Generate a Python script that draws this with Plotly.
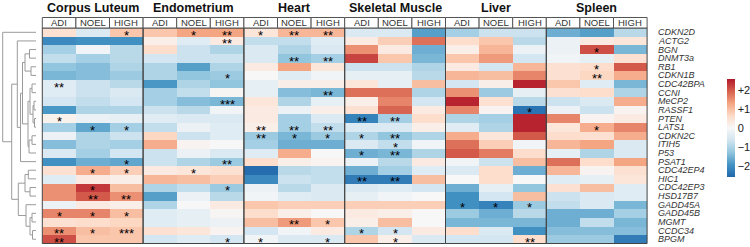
import plotly.graph_objects as go

W, H = 750, 247

genes = ["CDKN2D", "ACTG2", "BGN", "DNMT3a", "RB1", "CDKN1B", "CDC42BPA", "CCNI",
         "MeCP2", "RASSF1", "PTEN", "LATS1", "CDKN2C", "ITIH5", "P53", "PSAT1",
         "CDC42EP4", "HIC1", "CDC42EP3", "HSD17B7", "GADD45A", "GADD45B", "MGMT",
         "CCDC34", "BPGM"]
groups = ["ADI", "NOEL", "HIGH"]
tissues = ["Corpus Luteum", "Endometrium", "Heart", "Skeletal Muscle", "Liver", "Spleen"]

corpus_luteum = [
    [0.5, -0.5, 0.9], [-2.1, -2.0, -2.0], [-1.1, -0.1, -0.9], [-0.8, -1.1, -0.9],
    [-1.3, -1.4, -1.0], [-1.5, -1.4, -1.2], [-0.4, -0.7, -0.9], [-0.4, -0.7, -0.5],
    [-0.6, -0.8, -0.6], [-1.9, -1.0, -1.0], [0.15, -0.2, -0.3], [-1.1, -1.7, -1.1],
    [-0.2, -1.0, -0.7], [-1.4, -1.0, -1.1], [-0.5, -1.1, -0.6], [-2.0, -1.6, -1.7],
    [0.5, 1.2, 0.8], [-0.4, 0.3, 0.2], [1.5, 2.3, 1.0], [1.5, 2.0, 1.5],
    [-0.2, 0.3, 0.2], [1.6, 1.6, 1.0], [0.5, 0.6, 0.7], [1.5, 1.0, 0.9], [2.1, 0.9, 0.9]]
endometrium = [
    [0.9, 1.3, 1.3], [0.2, -0.4, 0.3], [0.6, -0.7, -1.0], [-0.6, -0.7, -0.7],
    [-1.0, -1.8, -1.0], [-1.0, -1.3, -1.2], [-1.9, -1.0, -1.3], [-1.1, -0.8, 0.05],
    [-1.1, -1.4, -1.5], [-0.7, -0.9, -0.1], [-0.4, -0.5, -0.5], [-0.8, -0.2, -0.4],
    [0.7, -0.7, -0.4], [1.2, 0.1, 0.0], [-0.7, -0.2, -0.5], [-0.7, -1.0, -1.2],
    [0.3, 0.4, 0.5], [1.1, 1.0, 0.8], [-1.0, -0.8, -1.2], [-1.8, -0.2, -0.9],
    [-1.0, 0.0, 0.3], [-0.4, -0.3, 0.05], [-0.4, -0.3, -0.2], [0.5, 0.4, 0.1], [-0.6, -0.4, -0.6]]
heart = [
    [0.4, 1.1, 1.1], [-0.8, -0.8, -0.4], [-0.5, -1.0, -0.5], [-0.5, -1.3, -1.1],
    [0.3, 1.3, 0.4], [0.0, -0.4, -0.1], [-0.3, 0.2, 0.2], [-0.3, -1.4, -1.5],
    [0.4, -1.0, -0.3], [0.3, -0.2, 0.2], [0.3, -1.1, -0.5], [0.2, -1.1, -0.8],
    [-1.2, -1.5, -1.2], [-1.1, -1.6, -1.6], [-0.4, 1.2, 0.0], [0.6, 0.2, 0.1],
    [-2.5, -0.9, -0.8], [-2.1, -0.7, -0.8], [-0.2, -0.9, -0.5], [-0.1, -0.4, -0.5],
    [0.9, 0.8, 0.8], [0.6, 0.2, 0.0], [1.0, 1.4, 0.9], [-0.6, -0.1, 0.3], [-0.1, -0.5, -0.5]]
skeletal_muscle = [
    [-0.5, -0.5, -1.8], [0.3, 0.8, 1.8], [1.5, 0.3, -1.6], [2.2, 0.9, -1.5],
    [-0.7, -0.7, -1.0], [-0.3, -0.3, -0.9], [0.4, -0.3, 1.0], [1.8, 1.8, -1.0],
    [0.2, 1.6, -0.6], [0.5, 1.9, 0.3], [-2.2, -1.1, 0.6], [-0.5, -0.5, 0.2],
    [-1.0, -1.3, -1.0], [-0.5, -0.8, -0.1], [-1.6, -1.5, -1.0], [-0.2, -0.9, 0.3],
    [-1.6, -1.1, -0.4], [-2.3, -2.3, 1.0], [-0.5, -0.4, -0.6], [-0.3, -0.1, 0.0],
    [0.8, 0.8, 0.8], [0.3, 0.2, 0.0], [0.2, 1.0, 0.0], [-1.0, -0.6, 0.3], [0.9, 0.2, -0.5]]
liver = [
    [-1.1, -0.7, -0.7], [0.6, 0.9, -0.9], [0.2, 1.1, -0.2], [0.9, 1.4, -0.6],
    [0.3, -0.6, 1.1], [1.1, 1.0, 1.6], [-0.6, 0.2, 2.5], [1.5, -1.2, -0.3],
    [2.5, 0.5, -0.9], [1.6, 0.1, -2.4], [-1.0, -1.1, 2.5], [-0.4, -1.0, 2.5],
    [1.2, 0.4, 2.0], [1.8, 0.8, -0.1], [2.0, 1.7, 0.6], [-0.1, -0.7, 1.0],
    [-0.5, 0.6, -1.6], [0.0, 0.6, 0.0], [-1.6, -0.3, -1.3], [-2.0, -0.6, 1.0],
    [-2.0, -2.2, -1.2], [-1.2, -1.6, -0.9], [-1.5, -1.5, -1.5], [0.6, -0.5, -2.0], [-0.6, -0.6, 0.6]]
spleen = [
    [-1.6, -1.8, -0.9], [-0.2, 0.3, 0.4], [-0.2, 2.1, -1.5], [-0.1, -0.3, 0.5],
    [0.5, 0.6, 2.0], [0.5, 0.7, 1.2], [0.9, -0.4, -1.5], [0.5, 0.6, -1.0],
    [-0.7, -0.5, 1.2], [-0.2, -0.7, 0.1], [1.6, 0.1, 0.3], [0.4, 1.2, 1.6],
    [0.6, 0.5, 1.2], [1.1, 1.3, -0.5], [-0.3, -1.0, -0.5], [1.8, 0.6, 1.3],
    [1.1, 0.1, 0.5], [-0.4, -0.3, 0.4], [0.5, 1.0, -0.4], [-0.7, -0.5, -0.4],
    [-0.8, -0.5, -1.5], [-1.6, -1.6, -1.1], [-1.6, -0.8, -1.5], [-1.4, -1.4, -1.4], [-1.2, -1.2, -2.3]]

# significance marks: row index -> marks for ADI, NOEL, HIGH
corpus_luteum_sig = {0: ["", "", "*"], 6: ["**", "", ""], 10: ["*", "", ""], 11: ["", "*", "*"],
                     15: ["", "", "*"], 16: ["", "*", "*"], 18: ["", "*", ""], 19: ["", "**", "**"],
                     21: ["*", "*", "*"], 23: ["**", "*", "***"], 24: ["**", "", ""]}
endometrium_sig = {0: ["", "*", "**"], 1: ["", "", "**"], 5: ["", "", "*"], 8: ["", "", "***"],
                   15: ["", "", "**"], 16: ["", "*", ""], 18: ["", "", "*"], 24: ["", "", "*"]}
heart_sig = {0: ["*", "**", "**"], 3: ["", "**", "**"], 7: ["", "", "**"], 11: ["**", "**", "**"],
             12: ["**", "*", "*"], 22: ["", "**", "*"], 24: ["*", "", "*"]}
skeletal_muscle_sig = {10: ["**", "**", ""], 12: ["*", "**", ""], 13: ["", "*", ""], 14: ["*", "**", ""],
                       17: ["**", "**", ""], 23: ["*", "*", ""], 24: ["", "*", ""]}
liver_sig = {9: ["", "", "*"], 20: ["*", "*", "*"], 24: ["", "", "**"]}
spleen_sig = {2: ["", "*", ""], 4: ["", "*", ""], 5: ["", "**", ""], 11: ["", "*", ""]}

# dendrogram: (merge distance, left, right); leaves are row indices
c23 = (6.5, 2, 3); c45 = (5.0, 4, 5); c2345 = (11.0, c23, c45)
c67 = (4.0, 6, 7); c89 = (2.0, 8, 9); c1011 = (1.5, 10, 11); c8_11 = (3.0, c89, c1011)
c6_11 = (6.0, c67, c8_11); c1213 = (4.0, 12, 13); c12_14 = (7.0, c1213, 14)
c6_14 = (8.0, c6_11, c12_14); c2_14 = (13.5, c2345, c6_14); c2_15 = (15.5, c2_14, 15)
c1_15 = (18.7, 1, c2_15)
c1617 = (7.7, 16, 17); c1819 = (6.0, 18, 19); c16_19 = (11.0, c1617, c1819)
c2122 = (4.0, 21, 22); c2324 = (3.5, 23, 24); c21_24 = (6.0, c2122, c2324)
c20_24 = (10.0, 20, c21_24); c16_24 = (17.7, c16_19, c20_24)
cA = (24.3, c1_15, c16_24)
tree = (33.3, 0, cA)

colorscale = [[0.0, "#2166ac"], [0.125, "#4393c3"], [0.25, "#92c5de"], [0.375, "#d1e5f0"],
              [0.5, "#f7f7f7"], [0.625, "#fddbc7"], [0.75, "#f4a582"], [0.875, "#d6604d"],
              [1.0, "#b2182b"]]

data_sets = [corpus_luteum, endometrium, heart, skeletal_muscle, liver, spleen]
sig_sets = [corpus_luteum_sig, endometrium_sig, heart_sig, skeletal_muscle_sig, liver_sig, spleen_sig]

# layout geometry (pixels)
HM_L, PANEL_W = 42.3, 100.8
HM_T, HM_B = 28.0, 243.5
HEAD_T = 17.5


def px(x):
    return x / W


def py(y):
    return 1 - y / H


fig = go.Figure()
layout = dict(width=W, height=H, margin=dict(l=0, r=0, t=0, b=0),
              paper_bgcolor="white", plot_bgcolor="white", showlegend=False,
              font=dict(family="Liberation Sans, Arial", color="#222"))

layout["yaxis"] = dict(domain=[py(HM_B), py(HM_T)], range=[len(genes) - 0.5, -0.5],
                       visible=False, anchor="x")

shapes, annotations = [], []
for i, (name, vals, sig) in enumerate(zip(tissues, data_sets, sig_sets)):
    x0 = HM_L + i * PANEL_W
    x1 = x0 + PANEL_W
    axn = "" if i == 0 else str(i + 1)
    layout["xaxis" + axn] = dict(domain=[px(x0), px(x1)], range=[-0.5, 2.5],
                                 visible=False, anchor="y")
    fig.add_trace(go.Heatmap(z=vals, x=[0, 1, 2], y=list(range(len(genes))),
                             xaxis="x" + axn, yaxis="y", coloraxis="coloraxis",
                             hoverinfo="skip"))
    # significance stars
    for r, marks in sig.items():
        for c, m in enumerate(marks):
            if m:
                annotations.append(dict(text=m, xref="x" + axn, yref="y", x=c, y=r,
                                        showarrow=False, xanchor="center", yanchor="middle",
                                        yshift=-3, font=dict(size=13, color="black")))
    # panel border
    shapes.append(dict(type="rect", xref="paper", yref="paper", x0=px(x0), x1=px(x1),
                       y0=py(HM_B), y1=py(HM_T), line=dict(color="#444", width=1)))
    # header cells
    cw = PANEL_W / 3
    for j, g in enumerate(groups):
        shapes.append(dict(type="rect", xref="paper", yref="paper",
                           x0=px(x0 + j * cw), x1=px(x0 + (j + 1) * cw),
                           y0=py(HM_T), y1=py(HEAD_T), fillcolor="white",
                           line=dict(color="#555", width=1)))
        annotations.append(dict(text=g, xref="paper", yref="paper",
                                x=px(x0 + (j + 0.5) * cw), y=py((HM_T + HEAD_T) / 2),
                                showarrow=False, xanchor="center", yanchor="middle",
                                font=dict(size=9.5, color="#333")))
    annotations.append(dict(text="<b>%s</b>" % name, xref="paper", yref="paper",
                            x=px((x0 + x1) / 2), y=py(8), showarrow=False,
                            xanchor="center", yanchor="middle",
                            font=dict(size=12.5, color="#111")))

for r, g in enumerate(genes):
    annotations.append(dict(text="<i>%s</i>" % g, xref="paper", yref="y", x=px(656),
                            y=r, showarrow=False, xanchor="left", yanchor="middle",
                            font=dict(size=9, color="#333")))

# dendrogram
layout["xaxis7"] = dict(domain=[0, px(HM_L)], range=[36, -6.3], visible=False, anchor="y")


def draw(node):
    if isinstance(node, int):
        return float(node), 0.0
    h, a, b = node
    ya, ha = draw(a)
    yb, hb = draw(b)
    fig.add_trace(go.Scatter(x=[ha, h, h, hb], y=[ya, ya, yb, yb], mode="lines",
                             xaxis="x7", yaxis="y", line=dict(color="#9a9a9a", width=1),
                             hoverinfo="skip"))
    return (ya + yb) / 2, h


draw(tree)

layout["coloraxis"] = dict(
    colorscale=colorscale, cmin=-2.6, cmax=2.6,
    colorbar=dict(thickness=7.5, thicknessmode="pixels", len=98, lenmode="pixels",
                  x=px(726.7), xanchor="left", y=py(128), yanchor="middle",
                  outlinewidth=0, tickvals=[-2, -1, 0, 1, 2],
                  ticktext=["\u22122", "\u22121", "0", "+1", "+2"],
                  ticks="", tickfont=dict(size=11, color="#222"), xpad=0, ypad=0))
layout["shapes"] = shapes
layout["annotations"] = annotations
fig.update_layout(**layout)
fig.write_html("out.html", config={"displayModeBar": False},
               post_script="document.body.style.margin='0px';"
                           "document.body.style.overflow='hidden';")
